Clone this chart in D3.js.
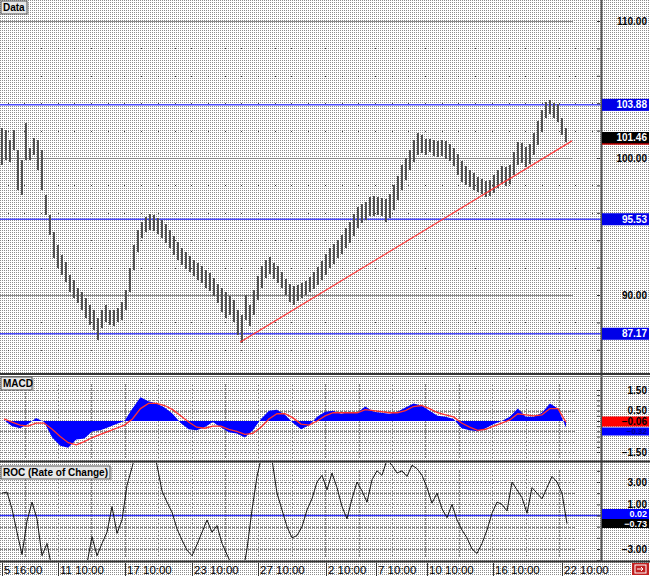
<!DOCTYPE html>
<html><head><meta charset="utf-8">
<script src="https://cdn.jsdelivr.net/npm/d3@7"></script>
<style>html,body{margin:0;padding:0;background:#fff}svg{display:block}</style>
</head><body><svg id="c" width="650" height="576"></svg>
<script>
// ---------------- DATA ----------------
const priceHigh = [102.19,102.04,101.31,102.04,100.58,99.85,102.55,100.73,101.46,101.31,100.58,97.30,95.84,94.60,93.65,92.92,92.41,91.46,91.09,90.51,90.22,89.78,89.27,88.91,88.32,88.91,89.27,88.91,88.91,89.05,89.49,90.36,91.97,93.65,94.74,95.33,95.69,95.91,95.84,95.62,95.47,95.18,94.74,94.31,93.87,93.43,93.14,92.85,92.55,92.34,92.12,91.82,91.61,91.24,90.80,90.51,90.22,89.93,89.64,88.91,88.54,89.99,89.27,90.36,91.39,92.12,92.55,92.77,92.34,92.12,91.68,91.17,90.80,90.66,90.73,90.88,91.02,91.31,91.68,92.04,92.48,92.99,93.43,93.72,94.01,94.38,94.89,95.33,95.91,96.42,96.64,96.79,97.15,97.23,97.15,97.08,97.01,97.37,98.03,98.69,99.49,100.00,100.58,101.31,101.82,101.68,101.39,101.39,101.31,101.24,101.31,101.24,101.02,100.73,100.29,99.78,99.42,99.12,98.91,98.61,98.47,98.32,98.39,98.76,99.12,99.42,99.34,99.49,100.44,101.17,101.09,100.80,101.02,101.82,102.70,103.50,104.09,104.23,104.01,103.94,102.92,102.19];
const priceLow = [99.49,99.85,99.71,100.58,97.66,97.30,99.85,99.85,100.22,99.12,97.66,95.84,94.38,92.70,91.97,91.46,90.95,90.22,89.78,89.42,88.91,88.32,87.81,87.45,86.72,87.59,88.03,87.81,87.74,88.03,88.18,88.91,90.22,91.82,93.14,94.16,94.60,94.74,94.67,94.45,94.16,93.80,93.43,92.92,92.55,92.19,91.90,91.68,91.39,91.09,90.88,90.51,90.29,89.93,89.42,88.76,88.32,88.54,88.03,87.08,86.50,88.18,87.74,88.54,89.64,90.51,91.24,91.53,91.17,90.88,90.51,90.00,89.49,89.27,89.56,89.78,90.00,90.22,90.44,90.73,91.09,91.46,91.97,92.26,92.70,92.99,93.43,93.80,94.31,94.89,95.26,95.47,95.77,95.77,95.84,95.77,95.33,95.62,96.20,96.93,97.66,98.39,99.12,99.71,100.22,100.36,100.22,100.44,100.15,100.07,100.15,99.93,99.78,99.42,98.76,98.25,98.03,97.88,97.66,97.52,97.37,97.15,97.23,97.45,97.81,98.10,97.96,98.10,98.76,99.49,99.64,99.34,99.56,100.22,100.95,101.90,102.92,103.21,102.92,102.63,101.68,101.17];
const lastClose = 101.46;
const levelValues = [103.88, 95.53, 87.17];
const priceTicks = [110, 100, 90];
const trendIdx = [59.5, 142.5];
const trendVal = [86.55, 101.25];

const macdValues = [0.05,-0.25,-0.35,-0.15,0.15,-0.05,-0.8,-1.2,-1.3,-0.9,-0.85,-0.5,-0.45,-0.3,-0.15,0.0,0.6,1.15,0.95,0.85,0.65,0.35,-0.1,-0.4,-0.45,-0.3,-0.05,-0.3,-0.55,-0.6,-0.8,-0.45,0.1,0.5,0.55,0.3,-0.1,-0.4,-0.2,0.2,0.45,0.5,0.35,0.45,0.4,0.7,0.45,0.4,0.35,0.45,0.65,0.85,0.75,0.5,0.25,0.2,0.1,-0.35,-0.45,-0.5,-0.35,-0.15,0.0,0.2,0.6,0.2,0.2,0.4,0.85,0.6,-0.32];
const macdSignal = [0.1,-0.05,-0.2,-0.25,-0.1,-0.1,-0.4,-0.75,-1.05,-1.15,-1.0,-0.8,-0.65,-0.5,-0.35,-0.2,0.1,0.6,0.85,0.85,0.75,0.55,0.25,-0.05,-0.3,-0.35,-0.25,-0.25,-0.4,-0.5,-0.65,-0.6,-0.3,0.1,0.35,0.35,0.15,-0.15,-0.2,0.0,0.25,0.4,0.4,0.4,0.4,0.55,0.5,0.45,0.4,0.4,0.5,0.7,0.75,0.6,0.4,0.3,0.2,-0.1,-0.3,-0.45,-0.4,-0.25,-0.1,0.05,0.35,0.3,0.25,0.3,0.6,0.6,-0.06];
const macdTicks = [1.5, 0.5, -1.5];
const macdLast = -0.32, signalLast = -0.06;

const rocValues = [2.0,2.1,0.6,-1.5,-3.5,-0.5,1.2,-0.3,-3.6,-2.5,-4.8,-6.0,-7.0,-7.5,-7.0,-6.5,-5.5,-4.3,-1.9,-3.6,-2.5,-1.5,0.8,-1.6,-0.4,2.7,4.3,6.0,7.0,7.5,6.5,4.5,2.2,1.2,0.3,-1.2,-2.2,-3.1,-3.6,-2.6,-1.5,-0.4,-1.5,-0.9,-2.5,-3.5,-4.5,-6.0,-5.5,-3.0,0.5,3.5,5.5,6.5,5.0,2.0,0.5,-1.0,-2.0,-1.8,-1.0,0.5,1.5,3.0,3.6,2.3,3.8,2.5,0.8,-0.3,1.5,3.0,2.2,1.2,3.2,4.0,3.6,5.0,4.5,3.8,4.0,3.5,4.5,4.2,3.6,2.5,1.1,2.0,0.6,-0.2,1.0,-0.4,-1.3,-2.0,-3.0,-3.4,-2.5,-1.3,0.2,1.2,1.0,0.4,3.0,2.3,1.6,0.2,2.5,2.0,1.5,2.5,3.5,3.0,2.0,-0.73];
const rocTicks = [3, 1, -3];
const rocZeroLabel = 0.02, rocLast = -0.73;

const dateLabels = ["5 16:00","11 10:00","17 10:00","23 10:00","27 10:00","2 10:00","7 10:00","10 10:00","16 10:00","22 10:00"];
const dateIdx = [0, 14, 30.75, 47.5, 64, 81, 93.5, 106.25, 122.75, 140];

// ---------------- LAYOUT ----------------
const W = 650, H = 576, plotR = 601;
const FONT = "'Liberation Sans', Arial, sans-serif";
const svg = d3.select("#c");
const defs = svg.append("defs");
const pat = defs.append("pattern").attr("id","dots").attr("width",2).attr("height",2).attr("patternUnits","userSpaceOnUse");
pat.append("rect").attr("width",2).attr("height",2).attr("fill","#ffffff");
pat.append("rect").attr("width",1).attr("height",1).attr("fill","#8c8c8c");
svg.append("rect").attr("width",W).attr("height",H).attr("fill","url(#dots)");

const x = d3.scaleLinear().domain([0, priceHigh.length - 1]).range([2, 566]);
const y = d3.scaleLinear().domain([90, 110]).range([295, 21]);
const yM = d3.scaleLinear().domain([-1.5, 1.5]).range([452, 390]);
const yR = d3.scaleLinear().domain([-3, 3]).range([549, 482]);
const xM = d3.scaleLinear().domain([0, macdValues.length - 1]).range([4, 566]);
const xR = d3.scaleLinear().domain([0, rocValues.length - 1]).range([2, 567]);

const clip = (id, yy, hh) => defs.append("clipPath").attr("id", id).append("rect").attr("x",0).attr("y",yy).attr("width",plotR).attr("height",hh);
clip("cMain", 0, 373); clip("cMacd", 377, 83); clip("cRoc", 463, 97);

// ---------- main panel ----------
const gMain = svg.append("g").attr("clip-path","url(#cMain)");
const minorVals = d3.range(86, 110, 2).filter(v => v % 10 !== 0);
const dotXs = d3.range(7.5, 596, 16.7);
minorVals.forEach(v => dotXs.forEach(dx => gMain.append("rect").attr("x",Math.round(dx)).attr("y",Math.round(y(v))).attr("width",1).attr("height",1).attr("fill","#444")));
gMain.selectAll("line.maj").data(priceTicks).join("line")
  .attr("x1",0).attr("x2",573).attr("y1",d=>Math.round(y(d))+0.5).attr("y2",d=>Math.round(y(d))+0.5)
  .attr("stroke","#8a8a8a").attr("stroke-width",1.2);
gMain.selectAll("line.lvl").data(levelValues).join("line")
  .attr("x1",0).attr("x2",plotR).attr("y1",d=>y(d)).attr("y2",d=>y(d))
  .attr("stroke","#4a4aff").attr("stroke-width",1.5);
gMain.selectAll("rect.bar").data(priceHigh).join("rect")
  .attr("x",(d,i)=>Math.round(x(i))-1).attr("width",2)
  .attr("y",(d,i)=>y(d)).attr("height",(d,i)=>Math.max(1,y(priceLow[i])-y(d)))
  .attr("fill","#505050");
gMain.append("line")
  .attr("x1",x(trendIdx[0])).attr("y1",y(trendVal[0])).attr("x2",x(trendIdx[1])).attr("y2",y(trendVal[1]))
  .attr("stroke","#ff3a3a").attr("stroke-width",1.2);

// ---------- MACD panel ----------
const gM = svg.append("g").attr("clip-path","url(#cMacd)");
const vGrid = d3.range(24.5, 590, 33.4);
gM.selectAll("line.h").data([1.5,1,0.5,-0.5,-1,-1.5]).join("line")
  .attr("x1",0).attr("x2",575).attr("y1",d=>Math.round(yM(d))+0.5).attr("y2",d=>Math.round(yM(d))+0.5)
  .attr("stroke","#888").attr("stroke-dasharray","3,1");
gM.selectAll("line.v").data(vGrid).join("line")
  .attr("x1",d=>Math.round(d)+0.5).attr("x2",d=>Math.round(d)+0.5).attr("y1",384).attr("y2",458)
  .attr("stroke","#888").attr("stroke-dasharray","3,1");
gM.append("path").datum(macdValues)
  .attr("d", d3.area().x((d,i)=>xM(i)).y0(yM(0)).y1(d=>yM(d)))
  .attr("fill","#0000ff");
gM.append("path").datum(macdSignal)
  .attr("d", d3.line().x((d,i)=>xM(i)).y(d=>yM(d)))
  .attr("fill","none").attr("stroke","#ff3030").attr("stroke-width",1.3);

// ---------- ROC panel ----------
const gR = svg.append("g").attr("clip-path","url(#cRoc)");
gR.selectAll("line.h").data([3,2,1,-1,-2,-3]).join("line")
  .attr("x1",0).attr("x2",575).attr("y1",d=>Math.round(yR(d))+0.5).attr("y2",d=>Math.round(yR(d))+0.5)
  .attr("stroke","#888").attr("stroke-dasharray","3,1");
gR.selectAll("line.v").data(vGrid).join("line")
  .attr("x1",d=>Math.round(d)+0.5).attr("x2",d=>Math.round(d)+0.5).attr("y1",470).attr("y2",558)
  .attr("stroke","#888").attr("stroke-dasharray","3,1");
gR.append("line").attr("x1",0).attr("x2",plotR).attr("y1",yR(0)).attr("y2",yR(0))
  .attr("stroke","#3030ff").attr("stroke-width",1.5);
gR.append("path").datum(rocValues)
  .attr("d", d3.line().x((d,i)=>xR(i)).y(d=>yR(d)))
  .attr("fill","none").attr("stroke","#111").attr("stroke-width",1);

// ---------- frame / separators ----------
const frame = svg.append("g");
frame.append("line").attr("x1",plotR+0.5).attr("x2",plotR+0.5).attr("y1",0).attr("y2",562).attr("stroke","#555").attr("stroke-width",2);
[[374,2],[461.5,2],[561.5,2]].forEach(([yy,w]) => frame.append("line").attr("x1",0).attr("x2",W).attr("y1",yy).attr("y2",yy).attr("stroke","#333").attr("stroke-width",w));
frame.append("line").attr("x1",0).attr("x2",W).attr("y1",376.5).attr("y2",376.5).attr("stroke","#777");

// right-axis ticks via d3 axes
svg.append("g").attr("transform",`translate(${plotR-1},0)`)
  .call(d3.axisLeft(y).tickValues(d3.range(86,112,2)).tickSize(3).tickFormat(""))
  .call(g=>{g.select(".domain").remove(); g.selectAll("line").attr("stroke","#333");});
svg.append("g").attr("transform",`translate(${plotR-1},0)`)
  .call(d3.axisLeft(yM).tickValues(d3.range(-1.5,1.6,0.25)).tickSize(3).tickFormat(""))
  .call(g=>{g.select(".domain").remove(); g.selectAll("line").attr("stroke","#333");});
svg.append("g").attr("transform",`translate(${plotR-1},0)`)
  .call(d3.axisLeft(yR).tickValues(d3.range(-4,5,1)).tickSize(3).tickFormat(""))
  .call(g=>{g.select(".domain").remove(); g.selectAll("line").attr("stroke","#333");});

// right labels
const lab = (txt, yy, col="#000", fs=10) => svg.append("text").attr("x",647).attr("y",yy+fs*0.35).attr("text-anchor","end")
  .attr("font-family",FONT).attr("font-weight","bold").attr("font-size",fs).attr("fill",col).text(txt);
const box = (txt, yy, bg, fg, h=12, fs=10) => {
  svg.append("rect").attr("x",602).attr("y",yy-h/2).attr("width",47).attr("height",h).attr("fill",bg);
  lab(txt, yy, fg, fs);
};
priceTicks.forEach(v => lab(d3.format(".2f")(v), y(v)));
levelValues.forEach(v => box(d3.format(".2f")(v), y(v), "#0000e8", "#fff"));
box(d3.format(".2f")(lastClose), y(lastClose), "#000", "#fff");
svg.append("line").attr("x1",602).attr("x2",649).attr("y1",y(lastClose)+6).attr("y2",y(lastClose)+6).attr("stroke","#c00000").attr("stroke-width",1.5);

macdTicks.forEach(v => lab(d3.format(".2f")(v), yM(v)));
box(d3.format(".2f")(macdLast), yM(0)+10.5, "#0000ff", "#00008a", 8, 8);
box(d3.format(".2f")(signalLast), yM(0)+0.5, "#ff0000", "#000", 10, 10);

rocTicks.forEach(v => lab(d3.format(".2f")(v), yR(v)));
box(d3.format(".2f")(rocZeroLabel), yR(0)-1.5, "#0000ff", "#fff", 10, 9);
box(d3.format(".2f")(rocLast), yR(0)+8, "#000", "#fff", 9, 9);

// panel titles
const title = (txt, yy, w) => {
  svg.append("rect").attr("x",1).attr("y",yy).attr("width",w).attr("height",13).attr("fill","#e8e8e8").attr("stroke","#555");
  svg.append("line").attr("x1",w+2).attr("x2",w+2).attr("y1",yy+1).attr("y2",yy+14).attr("stroke","#999");
  svg.append("text").attr("x",3).attr("y",yy+10).attr("font-family",FONT).attr("font-weight","bold")
    .attr("font-size",10).attr("fill","#000").text(txt);
};
title("Data", 1, 26);
title("MACD", 377, 31);
title("ROC (Rate of Change)", 466, 109);

// x axis strip
const gx = svg.append("g");
gx.selectAll("line.sep").data(dateIdx).join("line")
  .attr("x1",d=>Math.round(x(d))+0.5).attr("x2",d=>Math.round(x(d))+0.5).attr("y1",563).attr("y2",576)
  .attr("stroke","#333");
gx.selectAll("text").data(dateLabels).join("text")
  .attr("x",(d,i)=>Math.round(x(dateIdx[i]))+2).attr("y",574)
  .attr("font-family",FONT).attr("font-size",11.5).attr("fill","#000").text(d=>d);

// corner icon
svg.append("rect").attr("x",632).attr("y",563).attr("width",17).attr("height",12).attr("fill","#c02020");
svg.append("rect").attr("x",635).attr("y",565).attr("width",11).attr("height",8).attr("fill","none").attr("stroke","#fff");
svg.append("path").attr("d","M637 569 H643 M641 567 L643 569 L641 571").attr("stroke","#fff").attr("fill","none");
</script></body></html>
